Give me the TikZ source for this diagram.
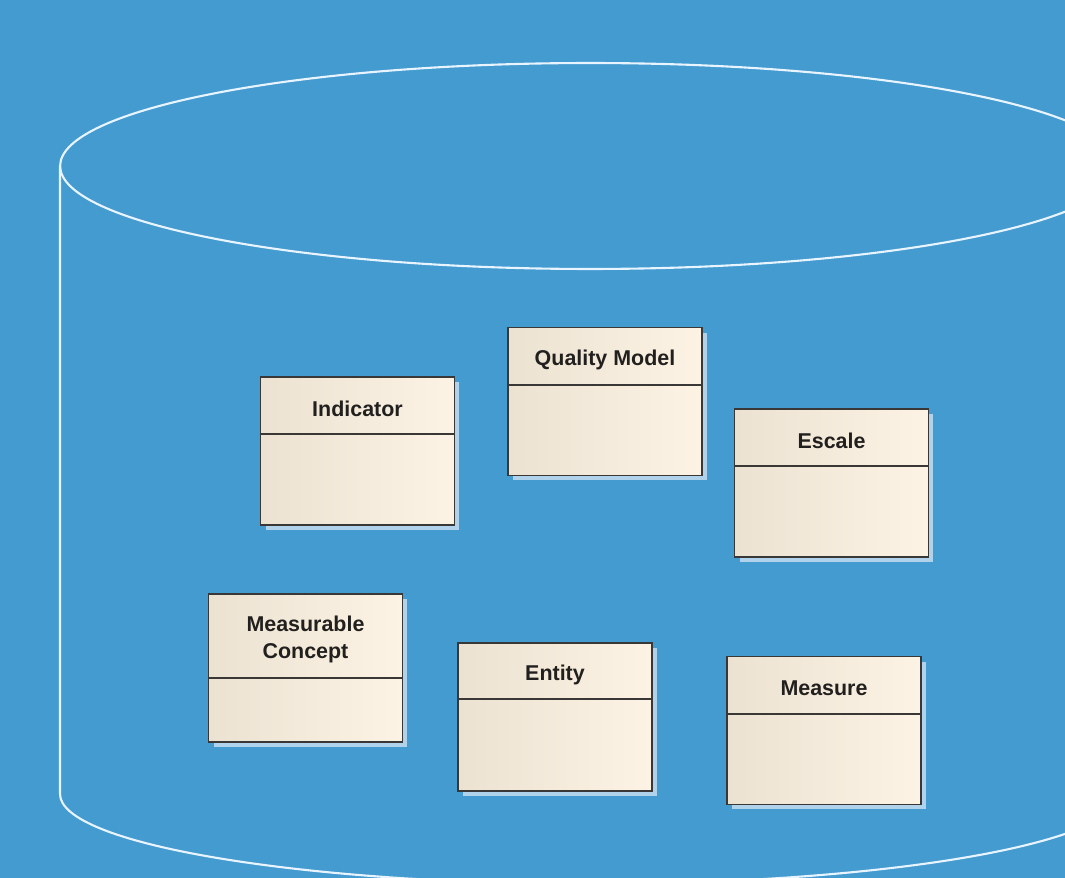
\documentclass[tikz,border=0pt]{standalone}
\usepackage{fontspec}
\setmainfont{Liberation Sans}
\usetikzlibrary{calc,shadows}

\definecolor{bgblue}{RGB}{68,155,207}
\definecolor{rimcol}{RGB}{232,244,255}
\definecolor{boxline}{RGB}{58,56,54}
\definecolor{creamL}{RGB}{236,226,210}
\definecolor{creamR}{RGB}{253,243,228}
\definecolor{shadowcol}{RGB}{176,210,234}
\definecolor{labelcol}{RGB}{34,32,30}

\tikzset{
  rim/.style={draw=rimcol, line width=1.2pt},
  classbody/.style={rectangle, draw=boxline, line width=1.1pt,
    left color=creamL, right color=creamR,
    minimum width=3.88cm, minimum height=2.96cm, inner sep=0pt,
    drop shadow={shadow xshift=0.1cm, shadow yshift=-0.1cm,
      fill=shadowcol, opacity=1}},
  classtitle/.style={font=\fontsize{12.2}{14.5}\selectfont\bfseries,
    text=labelcol, align=center, inner sep=0pt},
  divider/.style={draw=boxline, line width=1.1pt},
}

% class box: name, centre, header height (px), title
\newcommand{\umlclass}[5]{%
  \node[classbody] (#1) at (#2) {};
  \node[classtitle] (#1-t) at ($(#1.north)+(0,#3/2+4)$) {#5};
  \draw[divider] ($(#1.north west)+(0,#3)$) -- ($(#1.north east)+(0,#3)$);
}

\begin{document}
\begin{tikzpicture}[x=0.02cm, y=-0.02cm]
  \fill[bgblue] (0,0) rectangle (1065,878);
  \useasboundingbox (0,0) rectangle (1065,878);
  \begin{scope}
    \clip (0,0) rectangle (1065,878);
    % cylinder outline
    \draw[rim] (590,166) ellipse [x radius=10.6cm, y radius=2.06cm];
    \draw[rim] (60,166) -- (60,794)
      arc [start angle=180, end angle=360, x radius=10.6cm, y radius=1.8cm]
      -- (1120,166);
  \end{scope}

  \umlclass{ind}{357.5,451}{58}{}{Indicator}
  \umlclass{qm}{605,401.5}{58}{}{Quality Model}
  \umlclass{esc}{831.5,483}{58}{}{Escale}
  \umlclass{mc}{305.5,668}{85}{}{Measurable\\[1pt]Concept}
  \umlclass{ent}{555,717}{57}{}{Entity}
  \umlclass{mea}{824,730.5}{58}{}{Measure}
\end{tikzpicture}
\end{document}
